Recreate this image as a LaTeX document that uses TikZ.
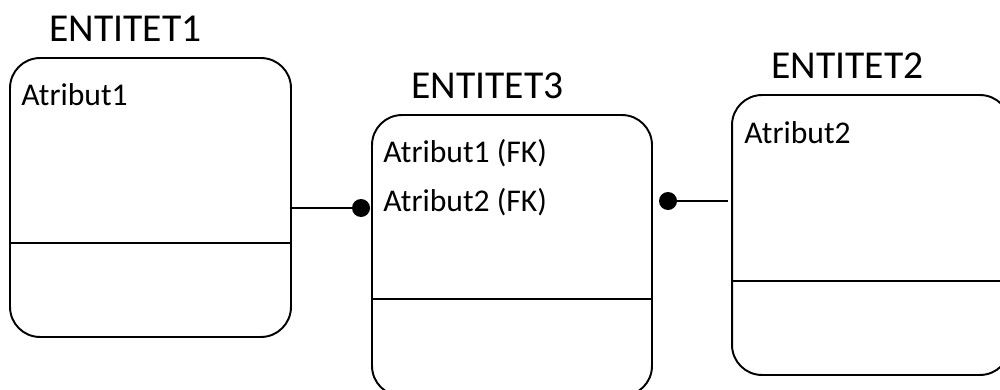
\documentclass[tikz,border=0pt]{standalone}
\usepackage{fontspec}
\setmainfont{Carlito}
\begin{document}
\begin{tikzpicture}[x=0.02cm,y=-0.02cm,
    entity/.style={draw, line width=1.1pt, rounded corners=0.6cm, inner sep=0pt},
    title/.style={anchor=base west, inner sep=0pt, font=\fontsize{22.5}{27}\selectfont},
    attr/.style={anchor=base west, inner sep=0pt, font=\fontsize{18}{21}\selectfont},
    dot/.style={circle, fill, inner sep=0pt, minimum size=0.36cm}]
    \useasboundingbox (0,0) rectangle (1000,389);
    \clip (0,0) rectangle (1000,389);

    % Draw the entities with their dividing lines
    \foreach \name/\x/\y/\w/\h/\d/\t in {e1/150.5/197.5/5.62/5.58/243/ENTITET1,
        e3/512/255.5/5.6/5.62/299/ENTITET3, e2/871/235/5.56/5.6/281/ENTITET2} {
        \node[entity, minimum width=\w cm, minimum height=\h cm] (\name) at (\x,\y) {};
        \path (0,\d) coordinate (m-\name);
        \draw[line width=1.1pt] (\name.west |- m-\name) -- (\name.east |- m-\name);
        \node[title] (t-\name) at ([shift={(40,-16)}]\name.north west) {\t};
    }

    % Attributes
    \node[attr] (a1) at ([shift={(12,48)}]e1.north west) {Atribut1};
    \node[attr] (a31) at ([shift={(12,48)}]e3.north west) {Atribut1 (FK)};
    \node[attr] (a32) at ([shift={(12,97)}]e3.north west) {Atribut2 (FK)};
    \node[attr] (a2) at ([shift={(13,49)}]e2.north west) {Atribut2};

    % Relationships
    \node[dot] (d1) at (361,208) {};
    \node[dot] (d2) at (668,201) {};
    \coordinate (c2) at (728,201);
    \draw[line width=1.1pt] (e1.east |- d1) -- (d1);
    \draw[line width=1.1pt] (d2) -- (c2);
\end{tikzpicture}
\end{document}
